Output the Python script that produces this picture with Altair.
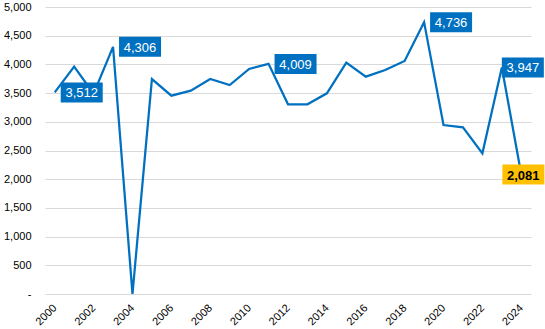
import altair as alt
import pandas as pd

years = list(range(2000, 2025))
values = [3512, 3960, 3490, 4306, 0, 3745, 3455, 3542, 3745, 3641, 3920, 4009,
          3305, 3305, 3496, 4030, 3786, 3902, 4060, 4736, 2944, 2904, 2451, 3947, 2081]
label_years_right = [2000, 2003, 2011, 2019]
label_years_edge = [2023]
label_years_last = [2024]

df = pd.DataFrame({"year": years, "value": values})
lab = df[df.year.isin(label_years_right + label_years_edge + label_years_last)].copy()
lab["text"] = lab.value.map(lambda v: f"{v:,}")

FONT = "Liberation Sans"
BLUE = "#0070C0"
YELLOW = "#FFC000"

x = alt.X("year:Q",
          scale=alt.Scale(domain=[1999.5, 2024.5], nice=False, zero=False),
          axis=alt.Axis(values=list(range(2000, 2025, 2)), format="d", labelAngle=-45,
                        labelAlign="right", labelBaseline="middle",
                        grid=False, ticks=False, domain=False, title=None,
                        labelFontSize=11, labelColor="#000000", labelFont=FONT,
                        labelPadding=12))
y = alt.Y("value:Q",
          scale=alt.Scale(domain=[0, 5000], nice=False),
          axis=alt.Axis(values=list(range(0, 5001, 500)),
                        labelExpr="datum.value == 0 ? '-\u00a0' : format(datum.value, ',')",
                        grid=True, gridColor="#D9D9D9", gridWidth=1, ticks=False,
                        domain=False, title=None, labelFontSize=11,
                        labelColor="#000000", labelFont=FONT, labelPadding=14))

line = alt.Chart(df).mark_line(color=BLUE, strokeWidth=2.25).encode(x=x, y=y)

def box_layer(yrs, path, color):
    return (alt.Chart(lab)
            .transform_filter(alt.FieldOneOfPredicate(field="year", oneOf=yrs))
            .mark_point(shape=path, size=1764, filled=True, color=color,
                        opacity=1, strokeWidth=0)
            .encode(x=x, y=y))

def text_layer(yrs, dx, color, weight):
    return (alt.Chart(lab)
            .transform_filter(alt.FieldOneOfPredicate(field="year", oneOf=yrs))
            .mark_text(dx=dx, dy=1, align="center", baseline="middle", color=color,
                       fontSize=13, font=FONT, fontWeight=weight)
            .encode(x=x, y=y, text="text:N"))

path_right = "M0.2857,-0.4762L2.2857,-0.4762L2.2857,0.4762L0.2857,0.4762Z"
path_edge = "M0,-0.4762L2,-0.4762L2,0.4762L0,0.4762Z"
path_center = "M-0.9,-0.4762L1.1,-0.4762L1.1,0.4762L-0.9,0.4762Z"

chart = alt.layer(
    line,
    box_layer(label_years_right, path_right, BLUE),
    box_layer(label_years_edge, path_edge, BLUE),
    box_layer(label_years_last, path_center, YELLOW),
    text_layer(label_years_right, 27, "white", "normal"),
    text_layer(label_years_edge, 21, "white", "normal"),
    text_layer(label_years_last, 2, "black", "bold"),
).properties(
    width=486, height=287,
    autosize=alt.AutoSizeParams(type="none"),
    padding={"left": 45, "top": 7, "right": 14, "bottom": 35},
).configure_view(stroke=None)

chart.save("out.html", embed_options={"renderer": "svg", "actions": False})
